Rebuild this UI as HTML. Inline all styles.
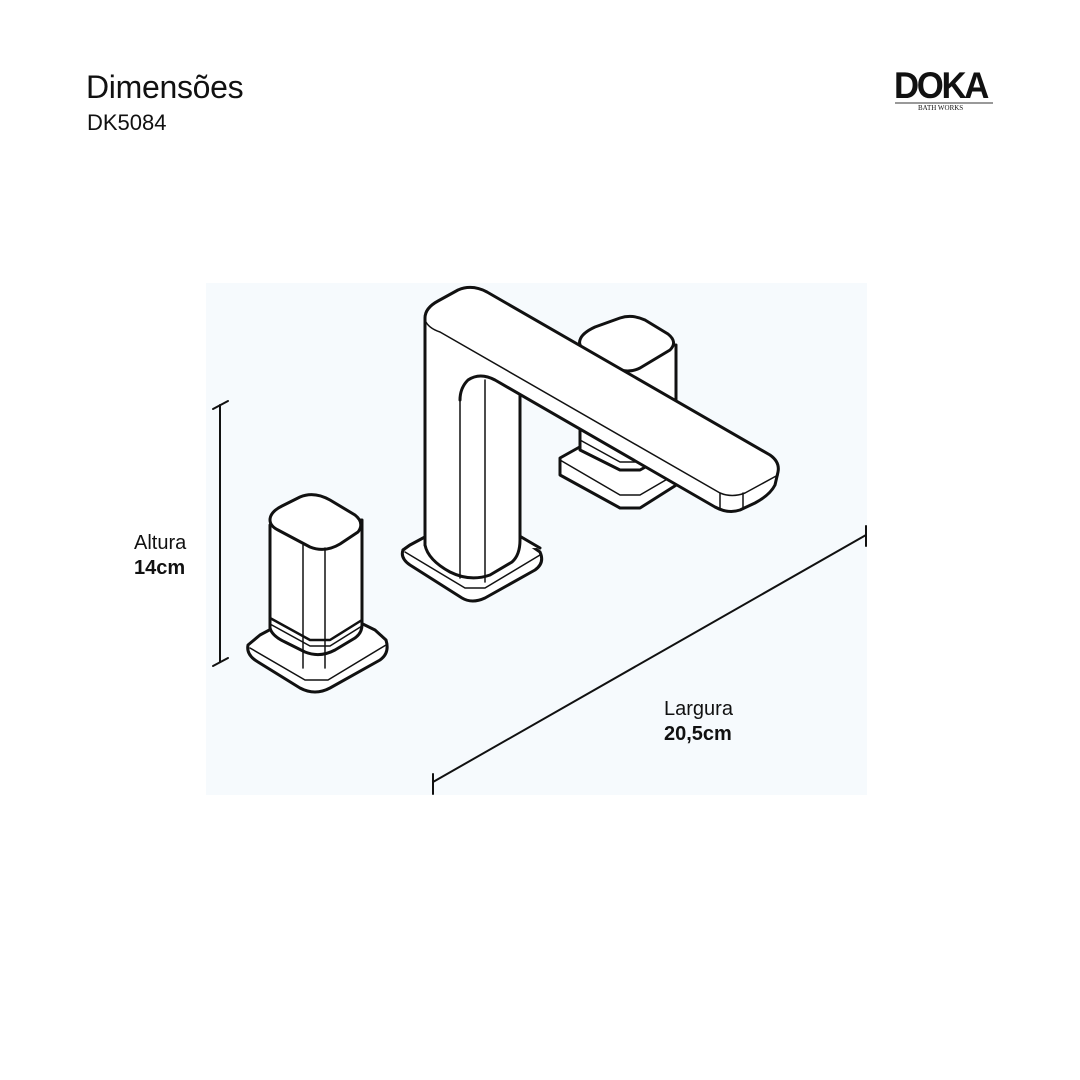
<!DOCTYPE html>
<html><head><meta charset="utf-8"><style>
body{margin:0;width:1080px;height:1080px;background:#fff;position:relative;font-family:"Liberation Sans",sans-serif;overflow:hidden}
.t{position:absolute;color:#111}
</style></head><body>
<div class="t" style="left:86px;top:69px;font-size:32px;letter-spacing:-0.3px">Dimensões</div>
<div class="t" style="left:87px;top:110px;font-size:22px">DK5084</div>
<div class="t" style="left:894px;top:65px;font-size:37px;font-weight:bold;letter-spacing:-2.5px;color:#111;transform:scaleX(0.94);transform-origin:left">DOKA</div>
<div style="position:absolute;left:895px;top:102px;width:98px;height:2px;background:#999"></div>
<div class="t" style="left:918px;top:104px;font-size:7px;font-family:'Liberation Serif',serif">BATH WORKS</div>
<div style="position:absolute;left:206px;top:283px;width:661px;height:512px;background:#f6fafd"></div>
<svg width="1080" height="1080" style="position:absolute;left:0;top:0" fill="#fff" stroke="#111" stroke-width="3" stroke-linejoin="round" stroke-linecap="round">
<line x1="220" y1="405" x2="220" y2="662" stroke-width="2"/>
<line x1="213" y1="409" x2="228" y2="401" stroke-width="2"/>
<line x1="213" y1="666" x2="228" y2="658" stroke-width="2"/>
<line x1="433" y1="782" x2="866" y2="535" stroke-width="2"/>
<line x1="433" y1="774" x2="433" y2="794" stroke-width="2"/>
<line x1="866" y1="526" x2="866" y2="546" stroke-width="2"/>
<!-- back handle base -->
<path d="M560 458 L610 430 L650 430 L700 458 L700 470 L640 508 L620 508 L560 475 Z"/>
<path d="M560 460 L620 495 L640 495 L700 460" fill="none" stroke-width="1.5"/>
<!-- back handle body -->
<path d="M580 345 L580 450 L620 470 L640 470 L676 450 L676 345 Z"/>
<path d="M580 340 Q582 333 595 327 L620 318 Q632 314 645 320 L668 334 Q678 342 670 350 L640 368 Q628 374 615 368 L585 350 Q578 346 580 340 Z"/>
<path d="M580 440 L620 462 L635 462 L676 440" fill="none" stroke-width="1.5"/>
<!-- spout base -->
<path d="M403 550 Q400 558 410 565 L462 598 Q472 604 485 598 L535 570 Q545 563 540 552 L530 545 L410 545 Z"/>
<path d="M405 552 L465 588 L485 588 L540 555" fill="none" stroke-width="1.5"/>
<path d="M403 550 L410 545 L475 510 L540 548"/>
<!-- spout column -->
<path d="M425 320 L425 545 Q428 560 450 572 Q470 582 490 575 L512 562 Q520 555 520 540 L520 380 L460 340 Z"/>
<path d="M460 395 L460 578" fill="none" stroke-width="1.5"/>
<path d="M485 380 L485 582" fill="none" stroke-width="1.5"/>
<!-- spout arm fill -->
<path d="M425 318 Q425 308 438 301 L458 290 Q472 284 487 292 L770 455 Q780 462 778 472 L775 485 Q770 495 755 503 L740 510 Q728 514 715 507 L495 380 Q480 372 468 380 Q460 388 460 400 L425 340 Z" stroke="none"/>
<path d="M425 545 L425 318 Q425 308 438 301 L458 290 Q472 284 487 292 L770 455 Q780 462 778 472 L775 485 Q770 495 755 503 L740 510 Q728 514 715 507 L495 380 Q480 372 468 380 Q460 388 460 400" fill="none"/>
<path d="M425 320 Q428 328 440 332 L720 493 Q732 498 745 493 L778 475" fill="none" stroke-width="1.5"/>
<path d="M720 493 L720 508" fill="none" stroke-width="1.5"/>
<path d="M743 493 L743 508" fill="none" stroke-width="1.5"/>
<!-- left handle base -->
<path d="M248 645 Q246 655 258 662 L300 688 Q315 696 330 688 L380 660 Q390 653 386 640 L375 630 L320 603 L260 635 Z"/>
<path d="M250 648 L305 680 L328 680 L386 645" fill="none" stroke-width="1.5"/>
<!-- left handle body -->
<path d="M270 525 L270 628 Q272 636 285 642 L305 652 Q320 658 335 650 L355 638 Q362 633 362 625 L362 520 Z"/>
<path d="M270 520 Q270 512 282 506 L300 497 Q314 491 330 500 L355 515 Q365 523 358 532 L340 544 Q325 553 310 547 L278 530 Q270 526 270 520 Z"/>
<path d="M270 618 L310 640 L330 640 L362 620" fill="none" stroke-width="2.5"/>
<path d="M270 624 L310 646 L330 646 L362 626" fill="none" stroke-width="1.5"/>
<path d="M303 545 L303 668" fill="none" stroke-width="1.5"/>
<path d="M325 548 L325 668" fill="none" stroke-width="1.5"/>
</svg>
<div class="t" style="left:134px;top:532px;font-size:20px">Altura</div>
<div class="t" style="left:134px;top:557px;font-size:20px;font-weight:bold">14cm</div>
<div class="t" style="left:664px;top:698px;font-size:20px">Largura</div>
<div class="t" style="left:664px;top:723px;font-size:20px;font-weight:bold">20,5cm</div>
</body></html>
